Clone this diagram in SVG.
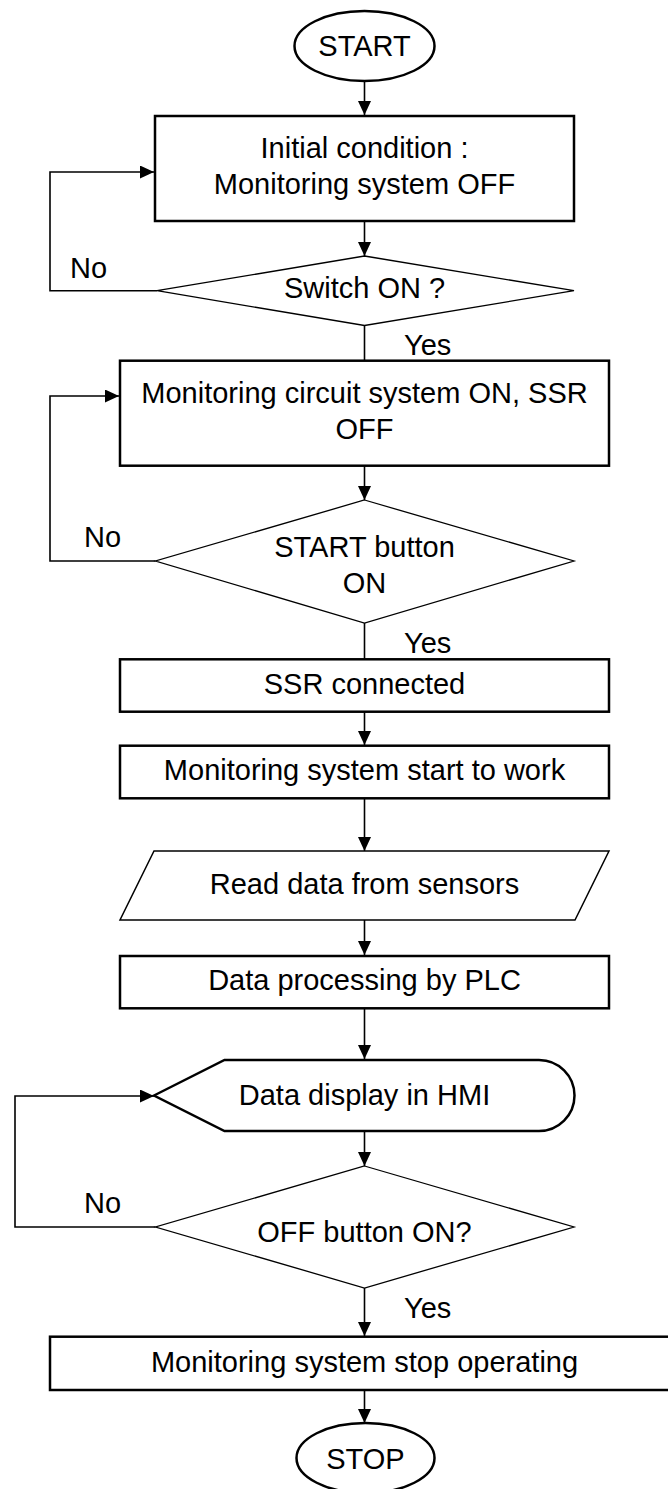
<svg xmlns="http://www.w3.org/2000/svg" width="668" height="1489" viewBox="0 0 668 1489">
<style>
.box{fill:#fff;stroke:#000;stroke-width:2.5}
.dia{fill:#fff;stroke:#000;stroke-width:1.3}
.thin{fill:#fff;stroke:#000;stroke-width:1.5}
.con{fill:none;stroke:#000;stroke-width:1.6}
text{font-family:"Liberation Sans",Arial,sans-serif;font-size:29px;fill:#000;text-anchor:middle}
.lbl{text-anchor:start}
</style>
<defs>
<marker id="ah" markerUnits="userSpaceOnUse" markerWidth="15" markerHeight="14" refX="14" refY="6.5" orient="auto">
<path d="M0,0 L14,6.5 L0,13 Z" fill="#000"/>
</marker>
</defs>
<g id="connectors">
<path class="con" d="M364.5,81 V115" marker-end="url(#ah)"/>
<path class="con" d="M364.5,221 V256" marker-end="url(#ah)"/>
<path class="con" d="M364.5,325.5 V360"/>
<path class="con" d="M157,290.7 H50 V172 H154" marker-end="url(#ah)"/>
<path class="con" d="M364.5,465.7 V500" marker-end="url(#ah)"/>
<path class="con" d="M155.5,561 H50 V396 H119" marker-end="url(#ah)"/>
<path class="con" d="M364.5,623 V659"/>
<path class="con" d="M364.5,711.7 V745" marker-end="url(#ah)"/>
<path class="con" d="M364.5,798.3 V851" marker-end="url(#ah)"/>
<path class="con" d="M364.5,920 V955" marker-end="url(#ah)"/>
<path class="con" d="M364.5,1008.3 V1059" marker-end="url(#ah)"/>
<path class="con" d="M364.5,1131 V1166" marker-end="url(#ah)"/>
<path class="con" d="M155.5,1227 H15 V1096 H154" marker-end="url(#ah)"/>
<path class="con" d="M364.5,1288 V1336" marker-end="url(#ah)"/>
<path class="con" d="M364.5,1390 V1423" marker-end="url(#ah)"/>
<text class="lbl" x="70" y="278">No</text>
<text class="lbl" x="404" y="355">Yes</text>
<text class="lbl" x="84" y="547">No</text>
<text class="lbl" x="404" y="653">Yes</text>
<text class="lbl" x="84" y="1213">No</text>
<text class="lbl" x="404" y="1318">Yes</text>
</g>
<g id="start">
<ellipse class="box" cx="364.5" cy="46" rx="70" ry="35"/>
<text x="364.5" y="56">START</text>
</g>
<g id="initial">
<rect class="box" x="155" y="116" width="419" height="105"/>
<text x="364.5" y="158">Initial condition :</text>
<text x="364.5" y="194">Monitoring system OFF</text>
</g>
<g id="switch">
<polygon class="dia" points="364.5,256 574,290.7 364.5,325.5 157,290.7"/>
<text x="364.5" y="298">Switch ON ?</text>
</g>
<g id="circuit">
<rect class="box" x="120" y="360.7" width="489" height="105"/>
<text x="364.5" y="403">Monitoring circuit system ON, SSR</text>
<text x="364.5" y="439">OFF</text>
</g>
<g id="startbtn">
<polygon class="dia" points="364.5,500 574,561 364.5,623 155.5,561"/>
<text x="364.5" y="557">START button</text>
<text x="364.5" y="593">ON</text>
</g>
<g id="ssr">
<rect class="box" x="120" y="659.3" width="489" height="52.4"/>
<text x="364.5" y="693.5">SSR connected</text>
</g>
<g id="work">
<rect class="box" x="120" y="745.7" width="489" height="52.6"/>
<text x="364.5" y="780">Monitoring system start to work</text>
</g>
<g id="read">
<polygon class="thin" points="154,851 609,851 575,920 120,920"/>
<text x="364.5" y="893.5">Read data from sensors</text>
</g>
<g id="plc">
<rect class="box" x="120" y="956" width="489" height="52.3"/>
<text x="364.5" y="990">Data processing by PLC</text>
</g>
<g id="hmi">
<path class="box" d="M154,1095.5 L224.5,1060 L539,1060 A35.5,35.5 0 0 1 539,1131 L224.5,1131 Z"/>
<text x="364.5" y="1104.5">Data display in HMI</text>
</g>
<g id="offbtn">
<polygon class="dia" points="364.5,1166 574,1227 364.5,1288 155.5,1227"/>
<text x="364.5" y="1241.5">OFF button ON?</text>
</g>
<g id="stopop">
<rect class="box" x="50" y="1336.7" width="629" height="53.3"/>
<text x="364.5" y="1371.5">Monitoring system stop operating</text>
</g>
<g id="stop">
<ellipse class="box" cx="365.5" cy="1458" rx="69" ry="35"/>
<text x="365.5" y="1468.5">STOP</text>
</g>
</svg>
